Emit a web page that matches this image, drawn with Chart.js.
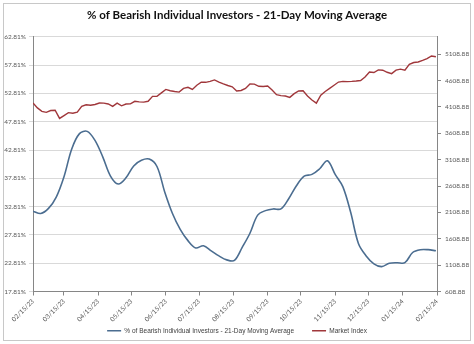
<!DOCTYPE html>
<html><head><meta charset="utf-8">
<script src="https://cdn.jsdelivr.net/npm/chart.js@4/dist/chart.umd.min.js"></script>
<style>html,body{margin:0;padding:0;background:#fff;overflow:hidden}#wrap{position:relative;width:474px;height:344px}canvas{display:block}</style>
</head><body><div id="wrap"><canvas id="c" width="474" height="344" style="width:474px;height:344px"></canvas></div>
<script>
const startDate = '02/15/23';
const xTickLabels = ['02/15/23','03/15/23','04/15/23','05/15/23','06/15/23','07/15/23','08/15/23','09/15/23','10/15/23','11/15/23','12/15/23','01/15/24','02/15/24'];
const leftTicks = [17.81,22.81,27.81,32.81,37.81,42.81,47.81,52.81,57.81,62.81];
const rightTicks = [608.88,1108.88,1608.88,2108.88,2608.88,3108.88,3608.88,4108.88,4608.88,5108.88];
const seriesNames = ['% of Bearish Individual Investors - 21-Day Moving Average','Market Index'];
// weekly samples from 02/15/23
const bearishValues = [32.0,31.6,32.5,34.5,38.1,43.0,45.7,46.1,44.5,41.6,
  38.2,36.8,37.9,40.0,41.0,41.2,39.9,35.4,31.6,28.8,
  26.8,25.5,25.9,25.0,24.1,23.4,23.3,25.6,28.1,31.3,
  32.1,32.4,32.4,34.2,36.5,38.2,38.5,39.5,40.9,38.5,
  36.3,31.8,26.3,24.1,22.7,22.2,22.8,22.9,22.9,24.7,
  25.2,25.2,25.0];
// samples every 4 days from 02/15/23
const marketValues = [4183,4090,4025,4005,4040,4045,3890,3945,4000,3990,
  4010,4120,4150,4140,4155,4183,4180,4165,4120,4180,
  4130,4164,4166,4215,4205,4200,4215,4308,4310,4375,
  4440,4415,4400,4390,4460,4480,4440,4520,4578,4575,
  4592,4620,4580,4545,4515,4490,4410,4420,4460,4543,
  4540,4500,4497,4505,4430,4340,4322,4315,4290,4360,
  4410,4414,4315,4240,4180,4330,4402,4460,4520,4580,
  4592,4588,4592,4600,4610,4675,4770,4760,4810,4805,
  4765,4740,4805,4825,4805,4915,4950,4960,4990,5025,
  5075,5060];

const DAY = 86400000;
function parseMDY(s){const p=s.split('/').map(Number);return Date.UTC(2000+p[2],p[0]-1,p[1]);}
function fmtMDY(t){const d=new Date(t);const z=n=>String(n).padStart(2,'0');return z(d.getUTCMonth()+1)+'/'+z(d.getUTCDate())+'/'+z(d.getUTCFullYear()%100);}
const t0 = parseMDY(startDate);
const dayOf = s => Math.round((parseMDY(s)-t0)/DAY);
const bearishDates = bearishValues.map((_,i)=>fmtMDY(t0+i*7*DAY));
const marketDates = marketValues.map((_,i)=>fmtMDY(t0+i*4*DAY));

const frame = {
  id:'frame',
  beforeDraw(chart){
    const c=chart.ctx;c.save();
    c.fillStyle='#ffffff';c.fillRect(0,0,chart.width,chart.height);
    c.strokeStyle='#c8c8c8';c.lineWidth=1;c.strokeRect(3.5,3.5,chart.width-7,chart.height-7);
    c.restore();
  }
};
const tickFont = {family:'Lato, sans-serif', size:6.5};
new Chart(document.getElementById('c'), {
  type:'line',
  data:{datasets:[
    {label:seriesNames[0], data:bearishDates.map((d,i)=>({x:dayOf(d),y:bearishValues[i]})), yAxisID:'y',
     borderColor:'#4B6D90', backgroundColor:'#4B6D90', borderWidth:1.6, pointRadius:0, tension:0.35, fill:false},
    {label:seriesNames[1], data:marketDates.map((d,i)=>({x:dayOf(d),y:marketValues[i]})), yAxisID:'y1',
     borderColor:'#A0373B', backgroundColor:'#A0373B', borderWidth:1.4, pointRadius:0, tension:0, fill:false}
  ]},
  options:{
    responsive:false, animation:false, devicePixelRatio:1,
    layout:{padding:{left:0,right:0,top:0,bottom:0}},
    plugins:{
      title:{display:true,text:'% of Bearish Individual Investors - 21-Day Moving Average',
        font:{family:'Lato, sans-serif',size:11.5,weight:'bold'},color:'#111111',padding:{top:8,bottom:15}},
      legend:{position:'bottom',labels:{usePointStyle:true,pointStyle:'line',pointStyleWidth:14,
        font:{family:'Liberation Sans, Arial, sans-serif',size:6.5},color:'#404040',padding:5,boxHeight:7,
        generateLabels:(chart)=>{
          const items=Chart.defaults.plugins.legend.labels.generateLabels(chart);
          items.forEach((it,i)=>{ if(i===0) it.text=it.text+'\u2003\u2003'; });
          return items;
        }}},
      tooltip:{enabled:false}
    },
    scales:{
      x:{type:'linear',min:0,max:dayOf(xTickLabels[xTickLabels.length-1]),
        afterBuildTicks:s=>{s.ticks=xTickLabels.map(l=>({value:dayOf(l)}));},
        afterFit:s=>{s.height=31;},
        ticks:{callback:(v,i)=>xTickLabels[i],maxRotation:45,minRotation:45,autoSkip:false,font:tickFont,color:'#595959',padding:2},
        grid:{drawOnChartArea:false,drawTicks:true,tickLength:4,color:'#868686'},
        border:{color:'#868686'}},
      y:{position:'left',min:leftTicks[0],max:leftTicks[leftTicks.length-1],
        afterBuildTicks:s=>{s.ticks=leftTicks.map(v=>({value:v}));},
        afterFit:s=>{s.width=33;},
        ticks:{callback:(v,i)=>leftTicks[i].toFixed(2)+'%',font:tickFont,color:'#595959',padding:3},
        grid:{color:'#d9d9d9',tickLength:4},
        border:{color:'#868686'}},
      y1:{position:'right',min:rightTicks[0],max:5438,
        afterBuildTicks:s=>{s.ticks=rightTicks.map(v=>({value:v}));},
        afterFit:s=>{s.width=37;},
        ticks:{callback:(v,i)=>rightTicks[i].toFixed(2),font:tickFont,color:'#595959',padding:4},
        grid:{drawOnChartArea:false,tickLength:4,color:'#868686'},
        border:{color:'#868686'}}
    }
  },
  plugins:[frame]
});
</script></body></html>
